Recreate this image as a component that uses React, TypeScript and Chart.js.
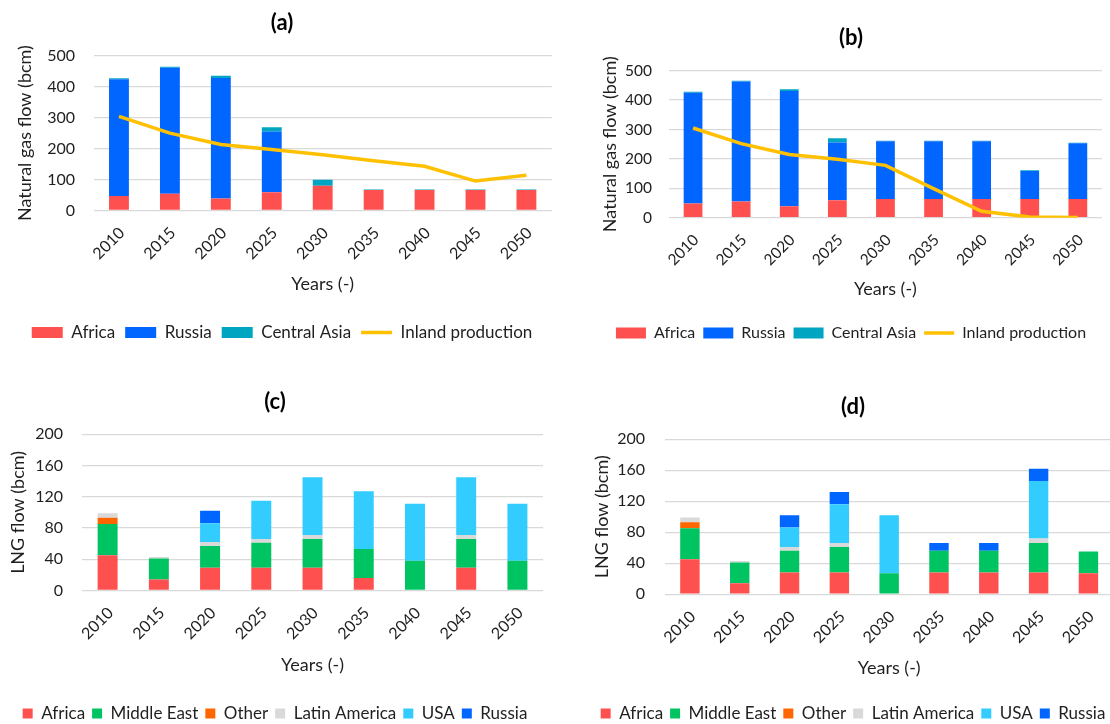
import React, { useEffect, useRef } from 'react';
import { Chart, registerables } from 'chart.js';

Chart.register(...registerables);

// ---------- data ----------
const years = ['2010', '2015', '2020', '2025', '2030', '2035', '2040', '2045', '2050'];

// panel (a) – natural gas flow (bcm)
const aAfrica = [47, 54, 39, 59, 80, 66, 66, 66, 66];
const aRussia = [377, 407, 389, 196, 0, 0, 0, 0, 0];
const aCentralAsia = [3, 3, 7, 14, 19, 2, 2, 2, 2];
const aInland = [304, 250, 213, 197, 180, 161, 143, 95, 114];

// panel (b) – natural gas flow (bcm)
const bAfrica = [48, 55, 39, 59, 64, 64, 64, 64, 64];
const bRussia = [377, 408, 392, 197, 196, 196, 196, 95, 189];
const bCentralAsia = [3, 3, 6, 14, 2, 2, 2, 2, 2];
const bInland = [305, 252, 215, 199, 178, 99, 22, 2, 1];

// panel (c) – LNG flow (bcm)
const cAfrica = [45, 14, 29, 29, 29, 16, 0, 29, 0];
const cMiddleEast = [40, 27, 28, 32, 37, 37, 38, 37, 38];
const cOther = [8, 0, 0, 0, 0, 0, 0, 0, 0];
const cLatinAmerica = [6, 2, 5, 5, 5, 0, 0, 5, 0];
const cUSA = [0, 0, 24, 49, 74, 74, 73, 74, 73];
const cRussia = [0, 0, 16, 0, 0, 0, 0, 0, 0];

// panel (d) – LNG flow (bcm)
const dAfrica = [45, 14, 28, 28, 0, 28, 28, 28, 27];
const dMiddleEast = [40, 27, 28, 33, 27, 28, 28, 38, 28];
const dOther = [8, 0, 0, 0, 0, 0, 0, 0, 0];
const dLatinAmerica = [6, 2, 5, 5, 0, 0, 0, 6, 0];
const dUSA = [0, 0, 25, 50, 75, 0, 0, 74, 0];
const dRussia = [0, 0, 16, 16, 0, 10, 10, 16, 0];

const pipeTicks = [0, 100, 200, 300, 400, 500];
const lngTicks = [0, 40, 80, 120, 160, 200];

// ---------- styles ----------
const C = {
  africa: '#FF5050',
  russia: '#0066FF',
  centralAsia: '#00A5C2',
  middleEast: '#00C462',
  other: '#FF6600',
  latin: '#D9D9D9',
  usa: '#33CCFF',
  inland: '#FFC000',
};
const FONT = 'Lato, "Open Sans", "DejaVu Sans", sans-serif';
const TEXT = '#1F1F1F';
const GRID = '#D9D9D9';

function bar(label: string, data: number[], color: string) {
  return {
    type: 'bar' as const,
    label,
    data,
    backgroundColor: color,
    borderWidth: 0,
    pointStyle: 'rect',
    stack: 'flows',
    barPercentage: 0.39,
    categoryPercentage: 1,
    order: 1,
  };
}

function line(label: string, data: number[], color: string) {
  return {
    type: 'line' as const,
    label,
    data,
    borderColor: color,
    backgroundColor: color,
    borderWidth: 3.5,
    pointRadius: 0,
    pointHoverRadius: 0,
    pointBorderWidth: 3.5,
    pointBorderColor: color,
    pointStyle: 'line',
    tension: 0,
    stack: 'inland',
    order: 0,
  };
}

type Layout = {
  titlePadTop: number;
  titlePadBottom: number;
  yWidth: number;
  yTitlePad: number;
  yTickPad: number;
  xHeight: number;
  xTitlePadBottom: number;
  legendPad: number;
  legendSize: number;
  tickSize: number;
  boxW: number;
  boxH: number;
};

function makeConfig(
  title: string,
  yTitle: string,
  ticks: number[],
  datasets: any[],
  L: Layout
): any {
  const yMax = ticks[ticks.length - 1];
  const yStep = ticks[1] - ticks[0];
  return {
    data: { labels: years, datasets },
    options: {
      responsive: false,
      animation: false,
      devicePixelRatio: 1,
      layout: { padding: 0 },
      plugins: {
        tooltip: { enabled: false },
        title: {
          display: true,
          text: title,
          color: '#000',
          font: { family: FONT, size: 22, weight: 'bold', lineHeight: 1.2 },
          padding: { top: L.titlePadTop, bottom: L.titlePadBottom },
        },
        legend: {
          position: 'bottom',
          labels: {
            usePointStyle: true,
            pointStyleWidth: L.boxW,
            boxHeight: L.boxH,
            padding: L.legendPad,
            color: TEXT,
            font: { family: FONT, size: L.legendSize },
            sort: (a: any, b: any) => a.datasetIndex - b.datasetIndex,
          },
        },
      },
      scales: {
        x: {
          stacked: true,
          offset: true,
          grid: { display: false, drawTicks: false },
          border: { display: false },
          ticks: {
            autoSkip: false,
            minRotation: 45,
            maxRotation: 45,
            padding: 13,
            labelOffset: 3,
            color: TEXT,
            font: { family: FONT, size: L.tickSize },
          },
          title: {
            display: true,
            text: 'Years (-)',
            color: TEXT,
            font: { family: FONT, size: 18, lineHeight: 1.2 },
            padding: { top: 0, bottom: L.xTitlePadBottom },
          },
          afterFit: (s: any) => {
            s.height = L.xHeight;
          },
        },
        y: {
          stacked: true,
          min: 0,
          max: yMax,
          grid: { color: GRID, lineWidth: 1.3, drawTicks: false },
          border: { display: false },
          ticks: {
            stepSize: yStep,
            padding: L.yTickPad,
            color: TEXT,
            font: { family: FONT, size: L.tickSize },
          },
          title: {
            display: true,
            text: yTitle,
            color: TEXT,
            font: { family: FONT, size: 18, lineHeight: 1.2 },
            padding: { top: L.yTitlePad, bottom: 0 },
          },
          afterFit: (s: any) => {
            s.width = L.yWidth;
          },
        },
      },
    },
  };
}

function Panel(props: { left: number; top: number; width: number; height: number; build: () => any }) {
  const ref = useRef<HTMLCanvasElement>(null);
  useEffect(() => {
    const chart = new Chart(ref.current as HTMLCanvasElement, props.build());
    return () => chart.destroy();
  }, []);
  return (
    <canvas
      ref={ref}
      width={props.width}
      height={props.height}
      style={{
        position: 'absolute',
        left: props.left,
        top: props.top,
        width: props.width,
        height: props.height,
      }}
    />
  );
}

const buildA = () =>
  makeConfig(
    '(a)',
    'Natural gas flow (bcm)',
    pipeTicks,
    [
      bar('Africa', aAfrica, C.africa),
      bar('Russia', aRussia, C.russia),
      bar('Central Asia', aCentralAsia, C.centralAsia),
      line('Inland production', aInland, C.inland),
    ],
    {
      titlePadTop: 9.3,
      titlePadBottom: 20,
      yWidth: 82.5,
      yTitlePad: 3.2,
      yTickPad: 18.5,
      xHeight: 103.5,
      xTitlePadBottom: 18.7,
      legendPad: 10,
      legendSize: 17,
      tickSize: 16,
      boxW: 31,
      boxH: 11,
    }
  );

const buildB = () =>
  makeConfig(
    '(b)',
    'Natural gas flow (bcm)',
    pipeTicks,
    [
      bar('Africa', bAfrica, C.africa),
      bar('Russia', bRussia, C.russia),
      bar('Central Asia', bCentralAsia, C.centralAsia),
      line('Inland production', bInland, C.inland),
    ],
    {
      titlePadTop: 24.3,
      titlePadBottom: 20,
      yWidth: 71,
      yTitlePad: 1.2,
      yTickPad: 17,
      xHeight: 99.3,
      xTitlePadBottom: 17.2,
      legendPad: 8,
      legendSize: 16,
      tickSize: 15.5,
      boxW: 30,
      boxH: 11,
    }
  );

const buildC = () =>
  makeConfig(
    '(c)',
    'LNG flow (bcm)',
    lngTicks,
    [
      bar('Africa', cAfrica, C.africa),
      bar('Middle East', cMiddleEast, C.middleEast),
      bar('Other', cOther, C.other),
      bar('Latin America', cLatinAmerica, C.latin),
      bar('USA', cUSA, C.usa),
      bar('Russia', cRussia, C.russia),
    ],
    {
      titlePadTop: 8.8,
      titlePadBottom: 19.1,
      yWidth: 76,
      yTitlePad: 1.2,
      yTickPad: 19,
      xHeight: 107.5,
      xTitlePadBottom: 21.7,
      legendPad: 7,
      legendSize: 17,
      tickSize: 16,
      boxW: 10,
      boxH: 10,
    }
  );

const buildD = () =>
  makeConfig(
    '(d)',
    'LNG flow (bcm)',
    lngTicks,
    [
      bar('Africa', dAfrica, C.africa),
      bar('Middle East', dMiddleEast, C.middleEast),
      bar('Other', dOther, C.other),
      bar('Latin America', dLatinAmerica, C.latin),
      bar('USA', dUSA, C.usa),
      bar('Russia', dRussia, C.russia),
    ],
    {
      titlePadTop: 13.3,
      titlePadBottom: 19.6,
      yWidth: 74,
      yTitlePad: 0,
      yTickPad: 20,
      xHeight: 103.8,
      xTitlePadBottom: 18.7,
      legendPad: 7,
      legendSize: 17,
      tickSize: 16,
      boxW: 10,
      boxH: 10,
    }
  );

export default function App() {
  return (
    <div
      style={{
        position: 'absolute',
        left: 0,
        top: 0,
        width: 1110,
        height: 724,
        overflow: 'hidden',
        background: '#fff',
      }}
    >
      <Panel left={11} top={0} width={542} height={351} build={buildA} />
      <Panel left={598} top={0} width={506} height={351} build={buildB} />
      <Panel left={6} top={380} width={538} height={352} build={buildC} />
      <Panel left={591} top={380} width={524} height={352} build={buildD} />
    </div>
  );
}
